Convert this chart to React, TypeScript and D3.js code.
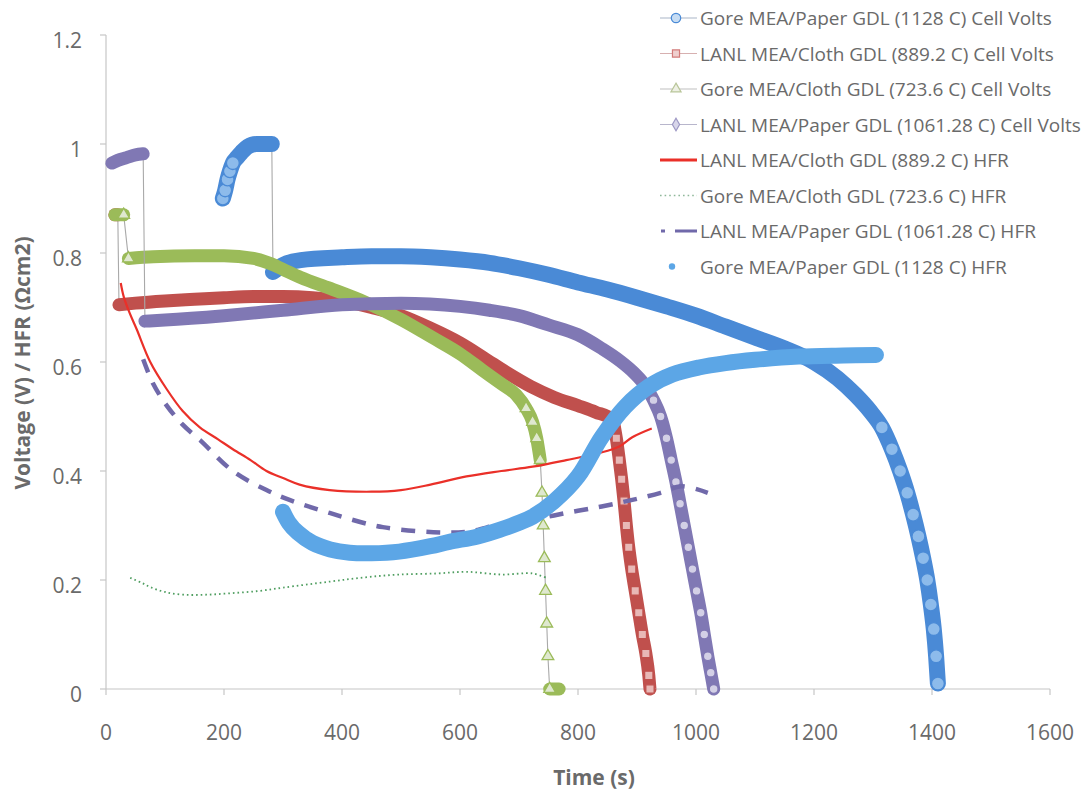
import React from "react";
import * as d3 from "d3";

// ---------- DATA ----------
const xTicks = [0, 200, 400, 600, 800, 1000, 1200, 1400, 1600];
const yTicks = [0, 0.2, 0.4, 0.6, 0.8, 1, 1.2];
const yTickLabels = ["0", "0.2", "0.4", "0.6", "0.8", "1", "1.2"];

const seriesNames = [
  "Gore MEA/Paper GDL (1128 C) Cell Volts",
  "LANL MEA/Cloth GDL (889.2 C) Cell Volts",
  "Gore MEA/Cloth GDL (723.6 C) Cell Volts",
  "LANL MEA/Paper GDL (1061.28 C) Cell Volts",
  "LANL MEA/Cloth GDL (889.2 C) HFR",
  "Gore MEA/Cloth GDL (723.6 C) HFR",
  "LANL MEA/Paper GDL (1061.28 C) HFR",
  "Gore MEA/Paper GDL (1128 C) HFR",
];

// Gore MEA/Paper GDL cell volts
const gorePaperCellT = [198, 202, 206, 210, 215, 222, 230, 240, 255, 270, 281, 283, 300, 330, 400, 450, 500, 550, 600, 650, 700, 750, 800, 850, 900, 950, 1000, 1050, 1100, 1150, 1200, 1240, 1270, 1295, 1315, 1332, 1346, 1358, 1368, 1377, 1385, 1392, 1398, 1403, 1407, 1410];
const gorePaperCellV = [0.9, 0.915, 0.935, 0.95, 0.965, 0.975, 0.985, 0.995, 1.0, 1.0, 1.0, 0.765, 0.778, 0.787, 0.792, 0.794, 0.794, 0.792, 0.788, 0.782, 0.772, 0.76, 0.746, 0.733, 0.718, 0.702, 0.685, 0.665, 0.645, 0.625, 0.6, 0.57, 0.54, 0.51, 0.48, 0.44, 0.4, 0.36, 0.32, 0.28, 0.24, 0.2, 0.155, 0.11, 0.06, 0.01];

// LANL MEA/Cloth GDL cell volts
const lanlClothCellT = [15, 20, 22, 50, 100, 150, 200, 250, 300, 350, 400, 450, 500, 550, 600, 640, 680, 720, 760, 800, 830, 858, 865, 870, 874, 878, 882, 886, 891, 897, 903, 909, 915, 920, 922];
const lanlClothCellV = [0.87, 0.87, 0.705, 0.708, 0.712, 0.715, 0.718, 0.72, 0.72, 0.718, 0.712, 0.7, 0.685, 0.662, 0.635, 0.608, 0.58, 0.555, 0.535, 0.52, 0.508, 0.494, 0.46, 0.42, 0.385, 0.345, 0.3, 0.26, 0.22, 0.18, 0.14, 0.1, 0.065, 0.025, 0.0];

// Gore MEA/Cloth GDL cell volts
const goreClothCellT = [15, 30, 38, 80, 150, 200, 250, 280, 300, 330, 380, 441, 500, 553, 600, 638, 670, 695, 712, 723, 730, 736, 739, 741, 743, 745, 747, 749, 752, 760, 768];
const goreClothCellV = [0.87, 0.87, 0.79, 0.793, 0.795, 0.795, 0.79, 0.78, 0.77, 0.755, 0.735, 0.709, 0.678, 0.645, 0.615, 0.585, 0.56, 0.54, 0.515, 0.49, 0.46, 0.42, 0.36, 0.3, 0.24, 0.18, 0.12, 0.06, 0.0, 0.0, 0.0];

// LANL MEA/Paper GDL cell volts
const lanlPaperCellT = [10, 20, 35, 50, 63, 66, 100, 200, 300, 400, 500, 600, 650, 700, 750, 800, 840, 870, 895, 915, 928, 940, 950, 958, 966, 973, 980, 987, 994, 1001, 1008, 1014, 1020, 1025, 1030];
const lanlPaperCellV = [0.965, 0.97, 0.975, 0.98, 0.982, 0.675, 0.677, 0.685, 0.695, 0.705, 0.708, 0.702, 0.695, 0.685, 0.668, 0.65, 0.625, 0.603, 0.58, 0.555, 0.53, 0.5, 0.46, 0.42, 0.38, 0.34, 0.3, 0.26, 0.22, 0.18, 0.14, 0.1, 0.06, 0.03, 0.0];

// LANL MEA/Cloth GDL HFR
const lanlClothHfrT = [25, 30, 40, 52, 75, 103, 130, 159, 190, 215, 245, 272, 300, 328, 379, 450, 500, 550, 611, 670, 723, 780, 836, 870, 892, 925];
const lanlClothHfrV = [0.745, 0.72, 0.69, 0.66, 0.6, 0.55, 0.51, 0.48, 0.458, 0.44, 0.42, 0.4, 0.387, 0.375, 0.365, 0.362, 0.365, 0.375, 0.39, 0.4, 0.408, 0.42, 0.433, 0.445, 0.462, 0.478];

// Gore MEA/Cloth GDL HFR
const goreClothHfrT = [41, 60, 75, 100, 131, 170, 215, 260, 300, 379, 440, 497, 560, 611, 670, 723, 746];
const goreClothHfrV = [0.204, 0.195, 0.187, 0.178, 0.173, 0.173, 0.176, 0.18, 0.186, 0.197, 0.205, 0.21, 0.212, 0.215, 0.21, 0.212, 0.204];

// LANL MEA/Paper GDL HFR
const lanlPaperHfrT = [63, 80, 103, 130, 159, 215, 272, 311, 379, 469, 582, 620, 667, 720, 780, 840, 892, 940, 975, 1020];
const lanlPaperHfrV = [0.605, 0.56, 0.52, 0.485, 0.457, 0.4, 0.365, 0.347, 0.323, 0.297, 0.287, 0.29, 0.302, 0.31, 0.323, 0.335, 0.347, 0.36, 0.372, 0.36];

// Gore MEA/Paper GDL HFR
const gorePaperHfrT = [300, 310, 325, 350, 380, 413, 450, 497, 550, 582, 630, 667, 700, 723, 760, 800, 840, 880, 920, 960, 1005, 1050, 1100, 1174, 1250, 1305];
const gorePaperHfrV = [0.325, 0.305, 0.287, 0.268, 0.256, 0.25, 0.249, 0.252, 0.262, 0.27, 0.28, 0.292, 0.305, 0.316, 0.345, 0.39, 0.462, 0.518, 0.555, 0.577, 0.59, 0.598, 0.604, 0.61, 0.612, 0.613];

// ---------- LAYOUT ----------
const W = 1088;
const H = 792;
const x = d3.scaleLinear().domain([0, 1600]).range([106, 1050]);
const y = d3.scaleLinear().domain([0, 1.2]).range([689, 35]);
const AXIS = "#c6c6c6";
const TEXT = "#6a6a6a";
const FONT = "'Open Sans', 'Liberation Sans', sans-serif";

type P = [number, number];
const zip = (t: number[], v: number[]): P[] => t.map((d, i) => [d, v[i]] as P);

// break the thick band where the data jumps vertically (sparse samples)
function splitSegments(pts: P[], maxJump: number): P[][] {
  const segs: P[][] = [];
  let cur: P[] = [];
  pts.forEach((p, i) => {
    if (i > 0) {
      const q = pts[i - 1];
      const dy = Math.abs(y(p[1]) - y(q[1]));
      if (dy > maxJump) {
        segs.push(cur);
        cur = [];
      }
    }
    cur.push(p);
  });
  segs.push(cur);
  return segs;
}

function isSteep(pts: P[], i: number): boolean {
  const check = (a: P, b: P) => {
    const dx = Math.abs(x(a[0]) - x(b[0]));
    const dy = Math.abs(y(a[1]) - y(b[1]));
    return dy > 2 * dx && dy < 60;
  };
  return (i > 0 && check(pts[i - 1], pts[i])) || (i < pts.length - 1 && check(pts[i], pts[i + 1]));
}

const thinLine = d3.line<P>().x((d) => x(d[0])).y((d) => y(d[1]));
const bandLine = d3
  .line<P>()
  .x((d) => x(d[0]))
  .y((d) => y(d[1]))
  .curve(d3.curveMonotoneX);
const hfrLine = d3
  .line<P>()
  .x((d) => x(d[0]))
  .y((d) => y(d[1]))
  .curve(d3.curveCatmullRom.alpha(0.5));

type CellProps = {
  pts: P[];
  color: string;
  fillLight: string;
  symbol: d3.SymbolType;
  band: number;
  msize: number;
};

function CellSeries({ pts, color, fillLight, symbol, band, msize }: CellProps) {
  const segs = splitSegments(pts, 28);
  const sym = d3.symbol().type(symbol).size(msize);
  return (
    <g>
      <path d={thinLine(pts) || ""} fill="none" stroke="#a9a9a9" strokeWidth={1.1} />
      {segs
        .filter((s) => s.length > 1)
        .map((s, i) => (
          <path
            key={i}
            d={bandLine(s) || ""}
            fill="none"
            stroke={color}
            strokeWidth={band}
            strokeLinecap="round"
            strokeLinejoin="round"
          />
        ))}
      {pts.map((p, i) =>
        isSteep(pts, i) ? (
          <path
            key={"m" + i}
            d={sym() || ""}
            transform={`translate(${x(p[0])},${y(p[1])})`}
            fill={fillLight}
            stroke={color}
            strokeWidth={1.3}
          />
        ) : null
      )}
    </g>
  );
}

const COLORS = {
  gorePaper: "#4a8ad6",
  lanlCloth: "#c0504d",
  goreCloth: "#9bbb59",
  lanlPaper: "#8078b4",
  redHfr: "#ea3029",
  greenHfr: "#4f9e60",
  purpleHfr: "#7069aa",
  blueHfr: "#5ca6e6",
};

export default function App() {
  const gorePaperCell = zip(gorePaperCellT, gorePaperCellV);
  const lanlClothCell = zip(lanlClothCellT, lanlClothCellV);
  const goreClothCell = zip(goreClothCellT, goreClothCellV);
  const lanlPaperCell = zip(lanlPaperCellT, lanlPaperCellV);
  const lanlClothHfr = zip(lanlClothHfrT, lanlClothHfrV);
  const goreClothHfr = zip(goreClothHfrT, goreClothHfrV);
  const lanlPaperHfr = zip(lanlPaperHfrT, lanlPaperHfrV);
  const gorePaperHfr = zip(gorePaperHfrT, gorePaperHfrV);

  const legendY = (i: number) => 18 + i * 35.5;
  const legendSym = (t: d3.SymbolType, s: number) => d3.symbol().type(t).size(s)() || "";

  return (
    <svg width={W} height={H} style={{ position: "absolute", left: 0, top: 0, background: "#fff" }}>
      <rect x={0} y={0} width={W} height={H} fill="#fff" />
      {/* axes */}
      <line x1={x(0)} x2={x(0)} y1={y(1.2)} y2={y(0)} stroke={AXIS} strokeWidth={1.2} />
      <line x1={x(0)} x2={x(1600)} y1={y(0)} y2={y(0)} stroke={AXIS} strokeWidth={1.2} />
      {yTicks.map((v, i) => (
        <g key={"y" + i}>
          <line x1={x(0) - 6} x2={x(0)} y1={y(v)} y2={y(v)} stroke={AXIS} strokeWidth={1.2} />
          <text
            x={82}
            y={y(v) + 5}
            textAnchor="end"
            dominantBaseline="central"
            fontFamily={FONT}
            fontSize={21}
            fill={TEXT}
          >
            {yTickLabels[i]}
          </text>
        </g>
      ))}
      {xTicks.map((t, i) => (
        <g key={"x" + i}>
          <line x1={x(t)} x2={x(t)} y1={y(0)} y2={y(0) + 6} stroke={AXIS} strokeWidth={1.2} />
          <text
            x={x(t)}
            y={732}
            textAnchor="middle"
            dominantBaseline="central"
            fontFamily={FONT}
            fontSize={21}
            fill={TEXT}
          >
            {t}
          </text>
        </g>
      ))}
      <text
        transform={`translate(22,363) rotate(-90)`}
        textAnchor="middle"
        dominantBaseline="central"
        fontFamily={FONT}
        fontWeight="bold"
        fontSize={21}
        fill={TEXT}
      >
        Voltage (V) / HFR (Ωcm2)
      </text>
      <text
        x={594}
        y={777}
        textAnchor="middle"
        dominantBaseline="central"
        fontFamily={FONT}
        fontWeight="bold"
        fontSize={21}
        fill={TEXT}
      >
        Time (s)
      </text>

      {/* series in legend order */}
      <CellSeries pts={gorePaperCell} color={COLORS.gorePaper} fillLight="#8dbbeb" symbol={d3.symbolCircle} band={16} msize={130} />
      <CellSeries pts={lanlClothCell} color={COLORS.lanlCloth} fillLight="#e8b8b6" symbol={d3.symbolSquare} band={13} msize={70} />
      <CellSeries pts={goreClothCell} color={COLORS.goreCloth} fillLight="#dfe8cf" symbol={d3.symbolTriangle} band={13} msize={60} />
      <CellSeries pts={lanlPaperCell} color={COLORS.lanlPaper} fillLight="#d3d0e6" symbol={d3.symbolCircle} band={13} msize={60} />

      <path d={hfrLine(lanlClothHfr) || ""} fill="none" stroke={COLORS.redHfr} strokeWidth={2.2} />
      <path d={hfrLine(goreClothHfr) || ""} fill="none" stroke={COLORS.greenHfr} strokeWidth={1.8} strokeDasharray="1.6,3" />
      <path d={hfrLine(lanlPaperHfr) || ""} fill="none" stroke={COLORS.purpleHfr} strokeWidth={4.5} strokeDasharray="14,11" />
      <path d={hfrLine(gorePaperHfr) || ""} fill="none" stroke={COLORS.blueHfr} strokeWidth={16} strokeLinecap="round" strokeLinejoin="round" />

      {/* legend */}
      {seriesNames.map((name, i) => {
        const ly = legendY(i);
        let sym: React.ReactNode = null;
        if (i === 0)
          sym = (
            <g>
              <line x1={660} x2={697} y1={ly} y2={ly} stroke="#aab6c8" strokeWidth={1.2} />
              <path d={legendSym(d3.symbolCircle, 70)} transform={`translate(676,${ly})`} fill="#c6dcf3" stroke={COLORS.gorePaper} strokeWidth={1.2} />
            </g>
          );
        else if (i === 1)
          sym = (
            <g>
              <line x1={660} x2={697} y1={ly} y2={ly} stroke="#d7b0b0" strokeWidth={1.2} />
              <path d={legendSym(d3.symbolSquare, 50)} transform={`translate(676,${ly})`} fill="#efcfce" stroke="#d27b79" strokeWidth={1.2} />
            </g>
          );
        else if (i === 2)
          sym = (
            <g>
              <line x1={660} x2={697} y1={ly} y2={ly} stroke="#c0c0c0" strokeWidth={1.2} />
              <path d={legendSym(d3.symbolTriangle, 45)} transform={`translate(676,${ly})`} fill="#eef0e4" stroke="#b9c69a" strokeWidth={1.2} />
            </g>
          );
        else if (i === 3)
          sym = (
            <g>
              <line x1={660} x2={697} y1={ly} y2={ly} stroke="#b8b6cc" strokeWidth={1.2} />
              <path d={legendSym(d3.symbolDiamond, 45)} transform={`translate(676,${ly})`} fill="#d8d6ea" stroke="#9d98c4" strokeWidth={1.2} />
            </g>
          );
        else if (i === 4)
          sym = <line x1={660} x2={697} y1={ly} y2={ly} stroke={COLORS.redHfr} strokeWidth={3} />;
        else if (i === 5)
          sym = <line x1={660} x2={697} y1={ly} y2={ly} stroke="#8fb89a" strokeWidth={1.6} strokeDasharray="1.6,3" />;
        else if (i === 6)
          sym = <line x1={661} x2={697} y1={ly} y2={ly} stroke={COLORS.purpleHfr} strokeWidth={3} strokeDasharray="4,10,22,0" />;
        else sym = <circle cx={672} cy={ly} r={3.2} fill={COLORS.blueHfr} />;
        return (
          <g key={"lg" + i}>
            {sym}
            <text x={700} y={ly} dominantBaseline="central" fontFamily={FONT} fontSize={19} fill={TEXT}>
              {name}
            </text>
          </g>
        );
      })}
    </svg>
  );
}
